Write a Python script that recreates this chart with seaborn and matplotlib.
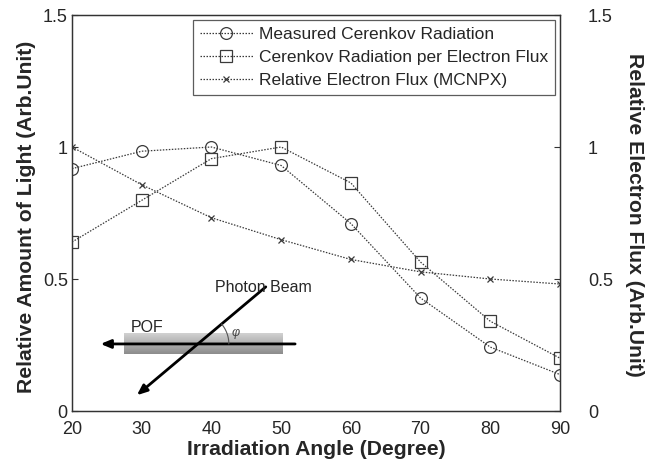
import numpy as np
import pandas as pd
import matplotlib
matplotlib.use("Agg")
import matplotlib.pyplot as plt
import seaborn as sns

angles = [20, 30, 40, 50, 60, 70, 80, 90]
measured = [0.918, 0.984, 1.0, 0.93, 0.71, 0.428, 0.242, 0.138]
per_flux = [0.64, 0.798, 0.956, 1.0, 0.864, 0.564, 0.34, 0.20]
electron_flux = [1.0, 0.857, 0.732, 0.649, 0.574, 0.527, 0.50, 0.481]

labels = ["Measured Cerenkov Radiation",
          "Cerenkov Radiation per Electron Flux",
          "Relative Electron Flux (MCNPX)"]
xticks = [20, 30, 40, 50, 60, 70, 80, 90]
yticks = [0, 0.5, 1, 1.5]
yticklabels = ["0", "0.5", "1", "1.5"]

sns.set_style("white")
plt.rcParams['font.family'] = ['Liberation Sans', 'DejaVu Sans']

fig = plt.figure(figsize=(6.45, 4.65), dpi=100)
ax = fig.add_axes([72/645, 54/465, 488/645, 396/465])

lc = "#3a3a3a"
common = dict(color=lc, linestyle=(0, (1.2, 1.2)), linewidth=0.9, markerfacecolor="none",
              markeredgecolor=lc, markeredgewidth=0.9)
sns.lineplot(x=angles, y=measured, ax=ax, marker="o", markersize=8.5, label=labels[0], **common)
sns.lineplot(x=angles, y=per_flux, ax=ax, marker="s", markersize=8.5, label=labels[1], **common)
sns.lineplot(x=angles, y=electron_flux, ax=ax, marker="x", markersize=4, label=labels[2], **common)

ax.set_xlim(20, 90)
ax.set_ylim(0, 1.5)
ax.set_xticks(xticks)
ax.set_xticklabels([str(v) for v in xticks], fontsize=13)
ax.set_yticks(yticks)
ax.set_yticklabels(yticklabels, fontsize=13)
ax.tick_params(direction="in", length=4, width=0.8, color="#333333", top=False, right=False)
ax.tick_params(axis="x", pad=7)
ax.tick_params(axis="y", pad=3)
ax.set_xlabel("Irradiation Angle (Degree)", fontsize=15.2, fontweight="bold", va="center")
ax.xaxis.set_label_coords(0.5, (411 - 449) / 396)
ax.set_ylabel("Relative Amount of Light (Arb.Unit)", fontsize=15.2, fontweight="bold", va="center")
ax.yaxis.set_label_coords(-0.094, 0.491)
for s in ax.spines.values():
    s.set_color("#333333")
    s.set_linewidth(0.9)

ax2 = ax.twinx()
ax2.set_ylim(0, 1.5)
ax2.set_yticks(yticks)
ax2.set_yticklabels(yticklabels, fontsize=13)
ax2.tick_params(direction="in", length=4, width=0.8, color="#333333", pad=20)
ax2.set_ylabel("Relative Electron Flux (Arb.Unit)", fontsize=15.2, fontweight="bold",
               rotation=270, va="center")
ax2.yaxis.set_label_coords(1.152, 0.496)
for s in ax2.spines.values():
    s.set_color("#333333")
    s.set_linewidth(0.9)

leg = ax.legend(loc="upper right", fontsize=12.5, frameon=True, fancybox=False,
                handlelength=3.0, handletextpad=0.35, borderaxespad=0.3,
                borderpad=0.4, labelspacing=0.45)
leg.get_frame().set_edgecolor("#333333")
leg.get_frame().set_linewidth(0.9)

# inset schematic
grad = np.linspace(0.82, 0.55, 50).reshape(-1, 1)
ax.imshow(grad, extent=[27.5, 50.3, 0.216, 0.292], cmap="gray", vmin=0, vmax=1,
          aspect="auto", zorder=1, origin="upper")
ax.set_xlim(20, 90)
ax.set_ylim(0, 1.5)
ax.annotate("", xy=(23.7, 0.254), xytext=(52.4, 0.254),
            arrowprops=dict(arrowstyle="-|>,head_length=0.6,head_width=0.25", color="black", lw=2),
            zorder=3)
ax.annotate("", xy=(29.0, 0.053), xytext=(48.1, 0.477),
            arrowprops=dict(arrowstyle="-|>,head_length=0.6,head_width=0.25", color="black", lw=2),
            zorder=3)
# angle arc (drawn so it is circular on screen)
cx, cy, r = 38.05, 0.254, 31
t = np.radians(np.linspace(0, 40, 30))
ax.plot(cx + r / 6.971 * np.cos(t), cy + r / 264.0 * np.sin(t), color="#555555", lw=0.8, zorder=3)
ax.text(40.5, 0.468, "Photon Beam", fontsize=11.5, va="center", ha="left")
ax.text(28.4, 0.317, "POF", fontsize=11.5, va="center", ha="left")
ax.text(42.9, 0.297, "φ", fontsize=9, style="italic", va="center", ha="left", color="#444444")

fig.savefig("out.png", dpi=100)
